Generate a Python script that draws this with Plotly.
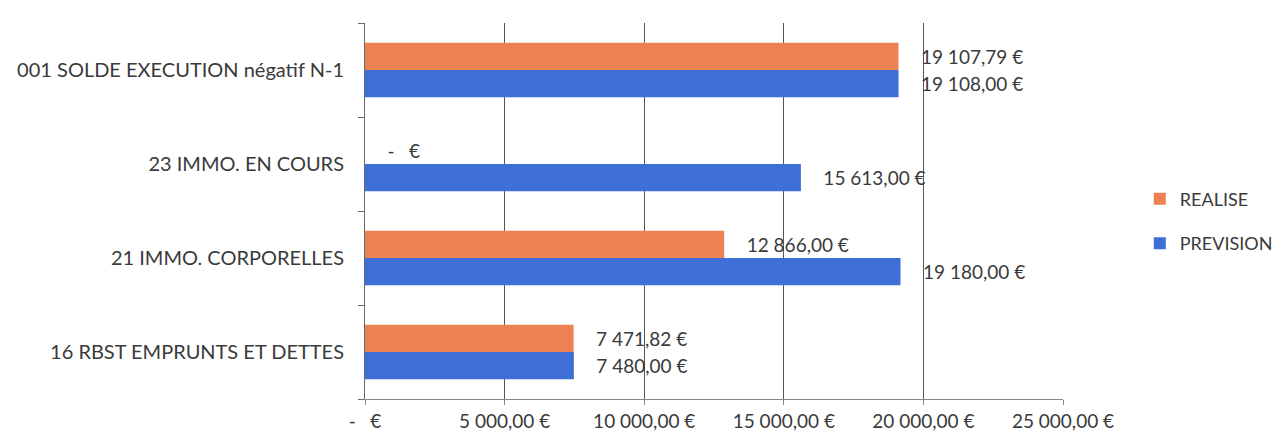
import plotly.graph_objects as go

categories = ["16 RBST EMPRUNTS ET DETTES", "21 IMMO. CORPORELLES",
              "23 IMMO. EN COURS", "001 SOLDE EXECUTION négatif N-1"]
realise = [7471.82, 12866.00, 0.0, 19107.79]
prevision = [7480.00, 19180.00, 15613.00, 19108.00]
tick_values = [0, 5000, 10000, 15000, 20000, 25000]


def eur(v):
    if v == 0:
        return "-\u00a0\u00a0\u00a0€"
    s = f"{v:,.2f}".replace(",", "\u00a0").replace(".", ",")
    return s + "\u00a0€"


def label(v):
    # Excel places data labels a bit away from the bar end
    return "\u00a0\u00a0\u00a0\u00a0" + eur(v)


FONT = "Lato, 'Open Sans', sans-serif"
TXT = "#3a3a3a"

fig = go.Figure()
fig.add_trace(go.Bar(
    y=categories, x=prevision, name="PREVISION", orientation="h",
    marker=dict(color="#3D6FD6", line=dict(width=0)),
    text=[label(v) for v in prevision], textposition="outside",
    textfont=dict(family=FONT, size=19, color=TXT), cliponaxis=False,
    legendgroup="p", legendrank=2,
))
fig.add_trace(go.Bar(
    y=categories, x=realise, name="REALISE", orientation="h",
    marker=dict(color="#EE8152", line=dict(width=0)),
    text=[label(v) for v in realise], textposition="outside",
    textfont=dict(family=FONT, size=19, color=TXT), cliponaxis=False,
    legendgroup="r", legendrank=1,
))

# the page body has an 8px margin, so the figure is sized to fit the window
fig.update_layout(
    width=1270, height=426,
    margin=dict(l=357, r=215, t=15, b=35, autoexpand=False),
    paper_bgcolor="white", plot_bgcolor="white",
    barmode="group", bargap=0.42, bargroupgap=0,
    font=dict(family=FONT, size=18, color=TXT),
    showlegend=True,
    legend=dict(x=1.110, y=0.473, xanchor="left", yanchor="middle",
                traceorder="grouped", tracegroupgap=18,
                font=dict(family=FONT, size=18, color=TXT),
                itemwidth=30, bgcolor="rgba(0,0,0,0)"),
    xaxis=dict(range=[0, 25000], tickvals=tick_values,
               ticktext=[eur(v) for v in tick_values],
               showgrid=True, gridcolor="#555555", gridwidth=1,
               showline=True, linecolor="#8a8a8a", linewidth=1,
               ticks="outside", ticklen=5, tickcolor="#8a8a8a",
               ticklabelstandoff=0, zeroline=False,
               tickfont=dict(family=FONT, size=19, color=TXT)),
    yaxis=dict(showgrid=False, showline=True, linecolor="#6a6a6a", linewidth=1,
               ticks="outside", ticklen=6, tickcolor="#6a6a6a",
               tickson="boundaries", ticklabelstandoff=16,
               tickfont=dict(family=FONT, size=20, color=TXT)),
)

fig.write_html("out.html")
